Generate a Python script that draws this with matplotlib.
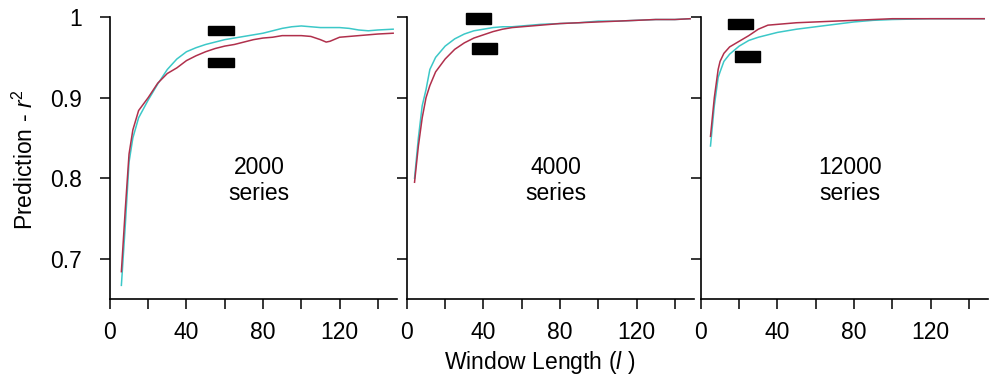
import matplotlib
matplotlib.use("Agg")
import matplotlib.pyplot as plt
from matplotlib.patches import Rectangle

plt.rcParams["font.family"] = ["Liberation Sans", "DejaVu Sans"]
plt.rcParams["mathtext.fontset"] = "custom"
plt.rcParams["mathtext.rm"] = "Liberation Sans"
plt.rcParams["mathtext.it"] = "Liberation Sans:italic"

# window length vs prediction r^2, three panels (number of series)
panel_labels = ["2000\nseries", "4000\nseries", "12000\nseries"]

x_2000 = [6, 8, 10, 12, 15, 20, 25, 30, 35, 40, 45, 50, 55, 60, 65, 70, 75,
          80, 85, 90, 95, 100, 105, 110, 113, 115, 120, 125, 130, 135, 140, 148]
red_2000 = [0.684, 0.76, 0.83, 0.86, 0.884, 0.900, 0.918, 0.930, 0.937, 0.946,
            0.952, 0.957, 0.961, 0.964, 0.966, 0.969, 0.972, 0.974, 0.975,
            0.977, 0.977, 0.977, 0.976, 0.972, 0.969, 0.970, 0.975, 0.976,
            0.977, 0.978, 0.979, 0.980]
cyan_2000 = [0.667, 0.74, 0.82, 0.85, 0.875, 0.897, 0.917, 0.935, 0.948, 0.957,
             0.962, 0.966, 0.969, 0.972, 0.974, 0.976, 0.978, 0.980, 0.983,
             0.986, 0.988, 0.989, 0.988, 0.987, 0.987, 0.987, 0.987, 0.986,
             0.984, 0.983, 0.984, 0.985]

x_4000 = [4, 6, 8, 10, 12, 15, 20, 25, 30, 35, 40, 45, 50, 55, 60, 70, 80, 90,
          100, 110, 120, 130, 140, 148]
red_4000 = [0.795, 0.84, 0.875, 0.90, 0.915, 0.932, 0.948, 0.960, 0.968, 0.974,
            0.978, 0.982, 0.985, 0.987, 0.988, 0.990, 0.992, 0.993, 0.994,
            0.995, 0.996, 0.997, 0.997, 0.998]
cyan_4000 = [0.80, 0.85, 0.89, 0.91, 0.935, 0.950, 0.964, 0.973, 0.979, 0.983,
             0.985, 0.987, 0.988, 0.988, 0.989, 0.991, 0.992, 0.993, 0.995,
             0.995, 0.996, 0.997, 0.997, 0.998]

x_12000 = [5, 7, 9, 10, 12, 15, 20, 25, 30, 35, 40, 50, 60, 70, 80, 90, 100,
           120, 148]
red_12000 = [0.852, 0.90, 0.935, 0.945, 0.955, 0.963, 0.970, 0.977, 0.985,
             0.990, 0.991, 0.993, 0.994, 0.995, 0.996, 0.997, 0.998, 0.998,
             0.998]
cyan_12000 = [0.84, 0.89, 0.925, 0.932, 0.945, 0.954, 0.964, 0.971, 0.975,
              0.978, 0.981, 0.985, 0.988, 0.991, 0.994, 0.996, 0.997, 0.998,
              0.998]

xs = [x_2000, x_4000, x_12000]
reds = [red_2000, red_4000, red_12000]
cyans = [cyan_2000, cyan_4000, cyan_12000]

x_ticks = [0, 20, 40, 60, 80, 100, 120, 140]
x_ticklabels = ["0", "", "40", "", "80", "", "120", ""]
y_ticks = [0.7, 0.8, 0.9, 1.0]
y_ticklabels = ["0.7", "0.8", "0.9", "1"]

# black boxes over the legend keys: (x0, x1, y0, y1) in data units
boxes = [
    [(51, 65, 0.978, 0.989), (51, 65, 0.938, 0.949)],
    [(31, 44, 0.991, 1.005), (34, 47, 0.954, 0.968)],
    [(14, 27, 0.985, 0.998), (18, 31, 0.944, 0.958)],
]

CYAN = "#3cc8c8"
RED = "#b0304c"

fig = plt.figure(figsize=(9.9, 3.8), dpi=100)
lefts = [0.111, 0.411, 0.708]
axes = [fig.add_axes([l, 0.213, 0.290, 0.742]) for l in lefts]

for i, ax in enumerate(axes):
    ax.plot(xs[i], cyans[i], color=CYAN, lw=1.1)
    ax.plot(xs[i], reds[i], color=RED, lw=1.1)
    ax.set_xlim(0, 150)
    ax.set_ylim(0.65, 1.0)
    for s in ["top", "right"]:
        ax.spines[s].set_visible(False)
    for s in ["left", "bottom"]:
        ax.spines[s].set_linewidth(1.2)
    ax.set_xticks(x_ticks)
    ax.set_xticklabels(x_ticklabels)
    ax.set_yticks(y_ticks)
    if i == 0:
        ax.set_yticklabels(y_ticklabels)
    else:
        ax.set_yticklabels([])
    ax.tick_params(direction="out", length=7, width=1.1, labelsize=16.5)
    ax.tick_params(axis="x", pad=9)
    ax.tick_params(axis="y", pad=13)
    ax.text(78, 0.797, panel_labels[i], ha="center", va="center",
            fontsize=16.5, linespacing=1.15)
    for (x0, x1, y0, y1) in boxes[i]:
        ax.add_patch(Rectangle((x0, y0), x1 - x0, y1 - y0, color="black",
                               clip_on=False, zorder=5))

fig.text(25 / 990, 1 - 160 / 380, r"Prediction - $\mathit{r}^2$",
         rotation=90, ha="center", va="center", fontsize=16.5)
fig.text(540 / 990, 1 - 362 / 380, r"Window Length ($\mathit{l}$ )",
         ha="center", va="center", fontsize=16.5)

fig.savefig("out.png", dpi=100)
